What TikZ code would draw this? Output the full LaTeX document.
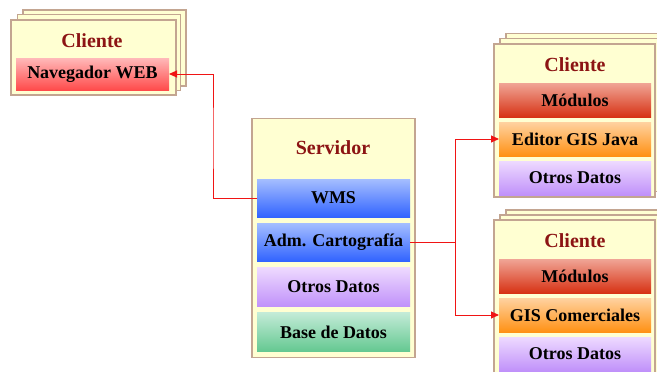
\documentclass[tikz,border=0pt]{standalone}
\usepackage{fontspec}
\setmainfont{Liberation Serif}
\usetikzlibrary{arrows.meta}
\definecolor{boxfill}{RGB}{255,255,210}
\definecolor{boxline}{RGB}{195,165,145}
\definecolor{titlered}{RGB}{140,20,20}
\definecolor{pinkT}{RGB}{255,185,185}
\definecolor{pinkB}{RGB}{255,75,75}
\definecolor{blueT}{RGB}{165,190,255}
\definecolor{blueB}{RGB}{50,100,255}
\definecolor{purpT}{RGB}{238,218,255}
\definecolor{purpB}{RGB}{192,145,250}
\definecolor{greenT}{RGB}{195,235,215}
\definecolor{greenB}{RGB}{100,200,145}
\definecolor{redT}{RGB}{240,165,150}
\definecolor{redB}{RGB}{215,50,20}
\definecolor{oranT}{RGB}{255,210,160}
\definecolor{oranB}{RGB}{255,145,20}
\definecolor{arrowred}{RGB}{240,20,20}
\tikzset{
  panel/.style={draw=boxline, line width=1.3pt, fill=boxfill, rectangle, inner sep=0pt, outer sep=0pt},
  bar/.style={rectangle, inner sep=0pt, outer sep=0pt, minimum width=153pt,
    font=\fontsize{18}{20}\selectfont\bfseries, text=black},
  ttl/.style={font=\fontsize{20}{22}\selectfont\bfseries, text=titlered, inner sep=0pt},
  pink/.style={bar, top color=pinkT, bottom color=pinkB},
  blue/.style={bar, top color=blueT, bottom color=blueB},
  purp/.style={bar, top color=purpT, bottom color=purpB},
  grn/.style={bar, top color=greenT, bottom color=greenB},
  redbar/.style={bar, top color=redT, bottom color=redB},
  oran/.style={bar, top color=oranT, bottom color=oranB},
  link/.style={draw=arrowred, line width=0.9pt, -{Triangle[length=8pt,width=7pt]}},
}
\begin{document}
\begin{tikzpicture}[x=1pt,y=-1pt]
\useasboundingbox (0,0) rectangle (657,372);
\clip (0,0) rectangle (657,372);
% left client
\node[panel, minimum width=163pt, minimum height=76pt] (c1b2) at (104.5,48) {};
\node[panel, minimum width=163pt, minimum height=76pt] (c1b1) at (99,52.5) {};
\node[panel, minimum width=165pt, minimum height=75pt] (c1) at (93.5,57.5) {};
\node[ttl] (c1t) at (92,41) {Cliente};
\node[pink, minimum height=32pt] (nav) at (92.5,74) {Navegador WEB};
% server
\node[panel, minimum width=163pt, minimum height=239pt] (srv) at (333.5,238) {};
\node[ttl] (srvt) at (333,148) {Servidor};
\node[blue, minimum height=38pt] (wms) at (333.5,198) {WMS};
\node[blue, minimum height=38pt] (adm) at (333.5,242) {Adm. Cartografía};
\node[purp, minimum height=39pt] (sod) at (333.5,287) {Otros Datos};
\node[grn, minimum height=39pt] (bd) at (333.5,332) {Base de Datos};
% right top client
\node[panel, minimum width=161pt, minimum height=153pt] (c2b2) at (586.5,110) {};
\node[panel, minimum width=161pt, minimum height=153pt] (c2b1) at (580.5,115) {};
\node[panel, minimum width=161pt, minimum height=153pt] (c2) at (574.5,120.5) {};
\node[ttl] (c2t) at (575,65) {Cliente};
\node[redbar, minimum width=152pt, minimum height=34pt] (mod1) at (575,100) {Módulos};
\node[oran, minimum width=152pt, minimum height=34pt] (ed) at (575,139) {Editor GIS Java};
\node[purp, minimum width=152pt, minimum height=34pt] (od1) at (575,178) {Otros Datos};
% right bottom client
\node[panel, minimum width=161pt, minimum height=170pt] (c3b2) at (586.5,295) {};
\node[panel, minimum width=161pt, minimum height=170pt] (c3b1) at (580.5,300) {};
\node[panel, minimum width=161pt, minimum height=170pt] (c3) at (574.5,305) {};
\node[ttl] (c3t) at (575,241) {Cliente};
\node[redbar, minimum width=152pt, minimum height=34pt] (mod2) at (575,276) {Módulos};
\node[oran, minimum width=152pt, minimum height=34pt] (gis) at (575,315) {GIS Comerciales};
\node[purp, minimum width=152pt, minimum height=34pt] (od2) at (575,354) {Otros Datos};
% connectors
\draw[link] (wms.west) -| (213,140) |- (nav.east);
\draw[link] (adm.east) -- (455,242) |- (ed.west);
\draw[link] (adm.east) -- (455,242) |- (gis.west);
\end{tikzpicture}
\end{document}
